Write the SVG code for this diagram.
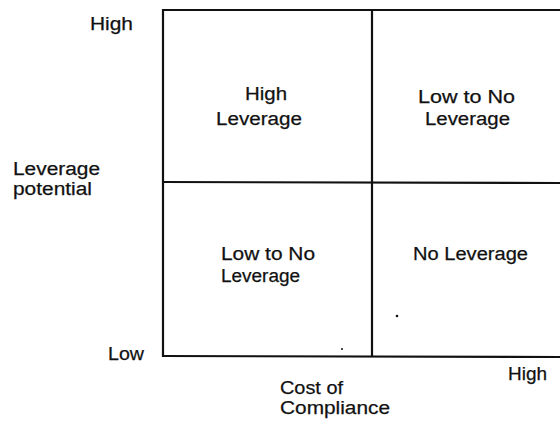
<svg xmlns="http://www.w3.org/2000/svg" width="560" height="425" viewBox="0 0 560 425">
<style>
text{font-family:"Liberation Sans",Arial,sans-serif;font-size:18.8px;fill:#111;stroke:#111;stroke-width:0.25}
.ln{stroke:#111;stroke-width:2.2;fill:none}
</style>
<rect width="560" height="425" fill="#fff"/>
<g id="grid">
<line class="ln" x1="163" y1="10" x2="560" y2="10"/>
<line class="ln" x1="163" y1="9" x2="163" y2="357"/>
<line class="ln" x1="162" y1="356" x2="560" y2="357"/>
<line class="ln" x1="163" y1="182" x2="560" y2="183"/>
<line class="ln" x1="372" y1="10" x2="372" y2="357"/>
</g>
<g id="q-top-left">
<text x="245" y="100" textLength="42" lengthAdjust="spacingAndGlyphs">High</text>
<text x="216" y="125" textLength="86" lengthAdjust="spacingAndGlyphs">Leverage</text>
</g>
<g id="q-top-right">
<text x="418" y="103" textLength="97" lengthAdjust="spacingAndGlyphs">Low to No</text>
<text x="425" y="125" textLength="85" lengthAdjust="spacingAndGlyphs">Leverage</text>
</g>
<g id="q-bottom-left">
<text x="221" y="260" textLength="94" lengthAdjust="spacingAndGlyphs">Low to No</text>
<text x="221" y="282" textLength="79" lengthAdjust="spacingAndGlyphs">Leverage</text>
</g>
<g id="q-bottom-right">
<text x="413" y="260" textLength="115" lengthAdjust="spacingAndGlyphs">No Leverage</text>
</g>
<g id="y-axis-labels">
<text x="90" y="30" textLength="43" lengthAdjust="spacingAndGlyphs">High</text>
<text x="13" y="175" textLength="87" lengthAdjust="spacingAndGlyphs">Leverage</text>
<text x="13" y="195" textLength="79" lengthAdjust="spacingAndGlyphs">potential</text>
<text x="108" y="360" textLength="36" lengthAdjust="spacingAndGlyphs">Low</text>
</g>
<g id="x-axis-labels">
<text x="508" y="380" textLength="39" lengthAdjust="spacingAndGlyphs">High</text>
<text x="280" y="394" textLength="63" lengthAdjust="spacingAndGlyphs">Cost of</text>
<text x="280" y="414" textLength="110" lengthAdjust="spacingAndGlyphs">Compliance</text>
</g>
<g id="specks" fill="#111">
<circle cx="397" cy="316" r="1.3"/>
<circle cx="342" cy="349" r="1"/>
</g>
</svg>
